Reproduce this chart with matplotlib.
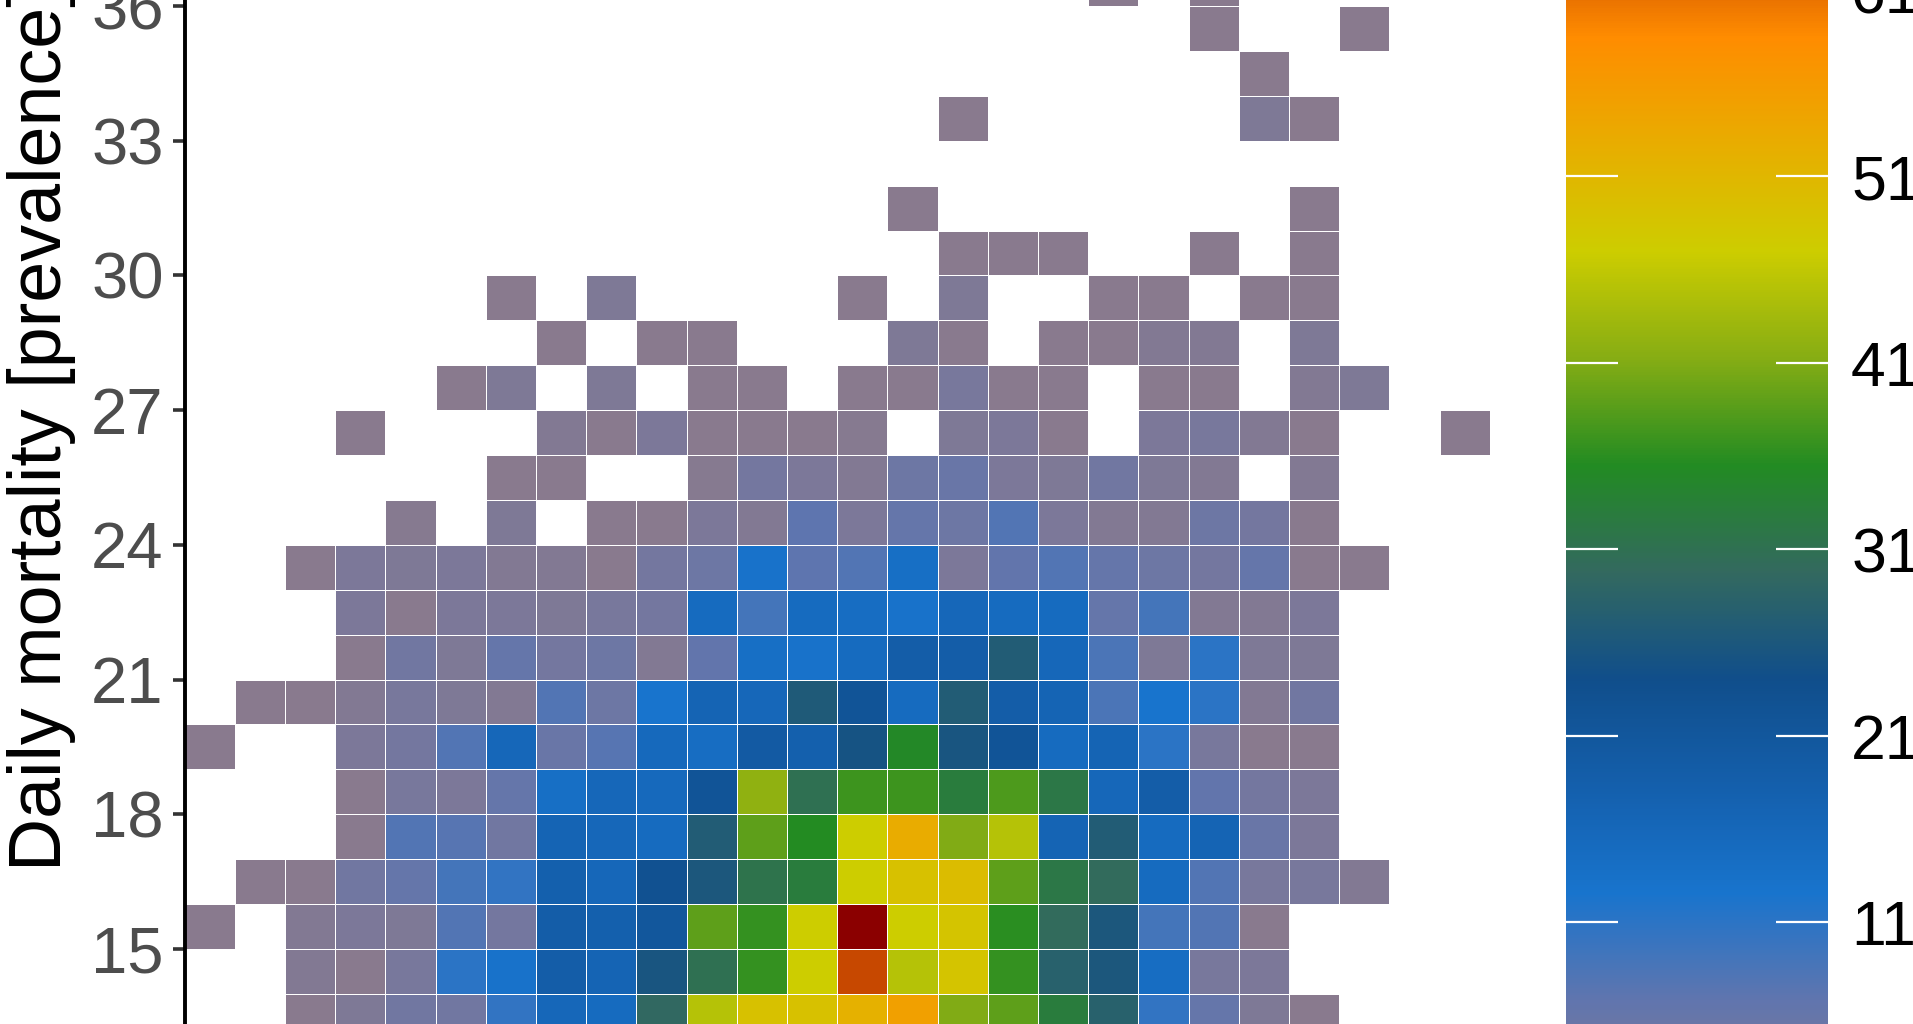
import numpy as np
import matplotlib
matplotlib.use("Agg")
import matplotlib.pyplot as plt
from matplotlib.colors import LinearSegmentedColormap

plt.rcParams['font.family'] = ['Liberation Sans', 'DejaVu Sans']

# one list per row of the heatmap, 26 columns, 0 = empty cell
row_13 = [0,0,1,2.5,4.5,4.5,10.5,16,15,29.5,45,49,49,52,55,41,39,33,28,10.5,6,2.5,1,0,0,0]
row_14 = [0,0,2,1,3.5,11,13,19,17,25.5,31,36.5,47,64,45,48.5,36.5,28,26,14.5,3.5,3,0,0,0,0]
row_15 = [1,0,2,3,2.5,8,4,19,18,21,39,36.5,47,70,47,48.5,36,30,26,9,8,1,0,0,0,0]
row_16 = [0,1,1,4.5,6,9,10.5,18,16,23,26,31.5,33,47,49,50,39,32,30,15,8,3.5,3.5,2,0,0]
row_17 = [0,0,0,1,8,7.5,4.5,17,16,15,27,39,35.5,47,53,41,45,17,27,15,17,5.5,3,0,0,0]
row_18 = [0,0,0,1,3.5,3,6,14,16,15.5,22,42,31,37,37,33,38,32,16,19,6.5,4,3,0,0,0]
row_19 = [1,0,0,3,4,8,16,5.5,7.5,15.5,14.5,20,18,25,35,25.5,22,15,17,11,3.5,1,1,0,0,0]
row_20 = [0,1,1,2,3.5,2.5,2,8,5,12.5,17,16,26.5,22,15,27,19,17,8.5,12.5,11,2,4.5,0,0,0]
row_21 = [0,0,0,1,4.5,2.5,6,4,5,2,6.5,14,13,15,19,19,27,16,8.5,2.5,11,2.5,2.5,0,0,0]
row_22 = [0,0,0,3,1,3,3,2.5,3.5,4,15,9,15,14.5,13,16,15,15,6,9,2,2,3,0,0,0]
row_23 = [0,0,1,3,2.5,3,2,2,1,4,5,13,7,8,14,3,6.5,8,6,5,4,6,1,1,0,0]
row_24 = [0,0,0,0,1.5,0,2.5,0,1,1,3,2,7,3,6,5,8,3,2,2,5,4,1,0,0,0]
row_25 = [0,0,0,0,0,0,1,1,0,0,1.5,4,3,2,5,5.5,3,2.5,4.5,2.5,2,0,2,0,0,0]
row_26 = [0,0,0,1,0,0,0,2,1,3,1,1,1,1.5,0,2.5,3,1,0,3,3.5,2,1,0,0,1]
row_27 = [0,0,0,0,0,1,2.5,0,2.5,0,1,1,0,1,1,3.5,1,1,0,1,1,0,2,2.5,0,0]
row_28 = [0,0,0,0,0,0,0,1,0,1,1,0,0,0,2.5,1,0,1,1,2,2,0,2.5,0,0,0]
row_29 = [0,0,0,0,0,0,1,0,2.5,0,0,0,0,1,0,2.5,0,0,1,1,0,1,1,0,0,0]
row_30 = [0,0,0,0,0,0,0,0,0,0,0,0,0,0,0,1,1,1,0,0,1,0,1,0,0,0]
row_31 = [0,0,0,0,0,0,0,0,0,0,0,0,0,0,1,0,0,0,0,0,0,0,1,0,0,0]
row_32 = [0]*26
row_33 = [0,0,0,0,0,0,0,0,0,0,0,0,0,0,0,1,0,0,0,0,0,2.5,1,0,0,0]
row_34 = [0,0,0,0,0,0,0,0,0,0,0,0,0,0,0,0,0,0,0,0,0,1,0,0,0,0]
row_35 = [0,0,0,0,0,0,0,0,0,0,0,0,0,0,0,0,0,0,0,0,1,0,0,1,0,0]
row_36 = [0,0,0,0,0,0,0,0,0,0,0,0,0,0,0,0,0,0,1,0,1,0,0,0,0,0]

rows = [row_13, row_14, row_15, row_16, row_17, row_18, row_19, row_20, row_21, row_22, row_23, row_24,
        row_25, row_26, row_27, row_28, row_29, row_30, row_31, row_32, row_33, row_34, row_35, row_36]

y_ticks = [15, 18, 21, 24, 27, 30, 33, 36]
bar_ticks = [11, 21, 31, 41, 51, 61]
stop_values = [1, 6.75, 12.5, 18.25, 24, 29.75, 35.5, 41.25, 47, 52.75, 58.5, 70]
stop_colours = ['#897A8E', '#6075AE', '#1874CD', '#145FAC', '#104E8B', '#33695F', '#228B22',
                '#86AD14', '#CDCD00', '#E8AD00', '#FF8C00', '#8B0000']

W, H = 1913, 1024
fig = plt.figure(figsize=(W / 100, H / 100), dpi=100, facecolor='white')

# the picture is cropped, so the axes run off the top and bottom of the figure
ax = fig.add_axes([184.5 / W, 0, (1540 - 184.5) / W, 1])
cmap = LinearSegmentedColormap.from_list('mort', [((v - 1) / 69, c) for v, c in zip(stop_values, stop_colours)], N=512)

z = np.ma.masked_equal(np.array(rows, dtype=float), 0)
xe = np.arange(z.shape[1] + 1)
ye = np.arange(13, 13 + z.shape[0] + 1)
mesh = ax.pcolormesh(xe, ye, z, cmap=cmap, vmin=1, vmax=70, edgecolors='white', linewidth=0.5)

ax.set_xlim(0, (1540 - 184.5) / 50.2)
ax.set_ylim(15 - (1024 - 949) / 44.9, 36 + 6 / 44.9)
ax.set_xticks([])
ax.set_yticks(y_ticks)
ax.tick_params(axis='y', length=9, width=2.6, color='#333333', labelcolor='#4D4D4D', labelsize=47, pad=6)
for s in ['top', 'right', 'bottom']:
    ax.spines[s].set_visible(False)
ax.spines['left'].set_linewidth(2.8)
ax.spines['left'].set_color('black')

fig.text(42 / W, (1024 - 871) / 1024, 'Daily mortality [prevalence]', rotation=90, ha='center', va='bottom',
         fontsize=53, color='black')

# colour bar, value 1 is at 1108 px and value 70 at -177 px
top_px, bot_px = -177.7, 1108.4
cax = fig.add_axes([1566 / W, (H - bot_px) / H, (1827.5 - 1566) / W, (bot_px - top_px) / H])
cb = fig.colorbar(mesh, cax=cax)
cb.outline.set_visible(False)
cb.set_ticks(bar_ticks)
cb.ax.tick_params(axis='y', which='major', direction='in', left=True, right=True, length=37.5, width=1.6,
                  color='white', labelcolor='black', labelsize=45, pad=17)
cb.ax.minorticks_off()

fig.savefig('out.png', dpi=100)
